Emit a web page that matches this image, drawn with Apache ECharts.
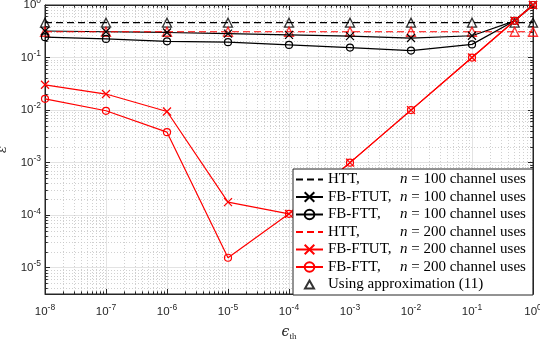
<!DOCTYPE html>
<html>
<head>
<meta charset="utf-8">
<script src="https://cdn.jsdelivr.net/npm/echarts@6/dist/echarts.min.js"></script>
<style>
  body { margin: 0; background: #fff; }
  #chart { width: 540px; height: 340px; }
</style>
</head>
<body>
<div id="chart"></div>
<script>
// epsilon_th values on the x axis
const xs = [1e-8, 1e-7, 1e-6, 1e-5, 1e-4, 1e-3, 1e-2, 1e-1, 0.5, 1];

// n = 100 channel uses
const htt100 = [0.46, 0.46, 0.46, 0.46, 0.46, 0.46, 0.46, 0.46, 0.46, 0.46];
const ftut100 = [0.32, 0.31, 0.30, 0.285, 0.27, 0.255, 0.235, 0.26, 0.5, 1];
const ftt100 = [0.244, 0.226, 0.204, 0.196, 0.174, 0.155, 0.136, 0.178, 0.5, 1];

// n = 200 channel uses
const htt200 = [0.31, 0.31, 0.31, 0.31, 0.31, 0.31, 0.31, 0.31, 0.31, 0.31];
const ftut200 = [0.0303, 0.0202, 0.0094, 1.77e-4, 1.06e-4, 1.0e-3, 1.0e-2, 0.1, 0.5, 1];
const ftt200 = [0.0164, 0.0097, 0.0038, 1.55e-5, 1.06e-4, 1.0e-3, 1.0e-2, 0.1, 0.5, 1];

// approximation (11)
const approx100 = [0.46, 0.46, 0.46, 0.46, 0.46, 0.46, 0.46, 0.46, 0.46, 0.46];
const approx200 = [0.31, 0.31, 0.31, 0.31, 0.31, 0.31, 0.31, 0.31, 0.31, 0.31];

const legendRows = {
  htt100: ['HTT,', '100'],
  ftut100: ['FB-FTUT,', '100'],
  ftt100: ['FB-FTT,', '100'],
  htt200: ['HTT,', '200'],
  ftut200: ['FB-FTUT,', '200'],
  ftt200: ['FB-FTT,', '200']
};

const BLACK = '#000000';
const RED = '#ff0000';
const XMARK = 'path://M0,0L10,10M0,10L10,0';
const xMin = 1e-8, xMax = 1;
const yMin = Math.pow(10, -5.5), yMax = 1;

function pairs(ys) {
  return xs.map((x, i) => [x, ys[i]]);
}

function powLabel(v) {
  const e = Math.log10(v);
  if (Math.abs(e - Math.round(e)) > 1e-6) return '';
  return '{b|10}{s|' + Math.round(e) + '}';
}

const labelRich = {
  b: { fontSize: 11.5, color: '#262626', fontFamily: 'Liberation Sans' },
  s: { fontSize: 8.5, color: '#262626', fontFamily: 'Liberation Sans', padding: [0, 0, 8, 0] }
};

// minor grid lines and minor ticks (2..9 in each decade)
const minorGrid = [];
const minorTicks = [];
const tx = Math.pow(10, 0.045), ty = Math.pow(10, 0.05);
for (let d = -8; d < 0; d++) {
  for (let k = 2; k <= 9; k++) {
    const v = k * Math.pow(10, d);
    minorGrid.push({ coords: [[v, yMin], [v, yMax]] });
    minorTicks.push({ coords: [[v, yMin], [v, yMin * ty]] });
    minorTicks.push({ coords: [[v, yMax], [v, yMax / ty]] });
  }
}
for (let d = -6; d < 0; d++) {
  for (let k = 2; k <= 9; k++) {
    const v = k * Math.pow(10, d);
    if (v <= yMin) continue;
    minorGrid.push({ coords: [[xMin, v], [xMax, v]] });
    minorTicks.push({ coords: [[xMin, v], [xMin * tx, v]] });
    minorTicks.push({ coords: [[xMax, v], [xMax / tx, v]] });
  }
}

function lineSeries(name, ys, color, dashed, symbol) {
  return {
    name: name,
    type: 'line',
    data: pairs(ys),
    symbol: symbol || 'none',
    symbolSize: symbol === 'circle' ? 7 : 8,
    showSymbol: !!symbol,
    lineStyle: { color: color, width: 1.2, type: dashed ? [7, 4] : 'solid' },
    itemStyle: { color: 'transparent', borderColor: color, borderWidth: 1.2 },
    emphasis: { disabled: true }
  };
}

const hideMark = { color: 'transparent', borderColor: 'transparent', borderWidth: 0 };

function axisBase(extra) {
  return Object.assign({
    axisLine: { show: true, lineStyle: { color: '#262626' } },
    axisTick: { inside: true, length: 5, lineStyle: { color: '#262626' } },
    splitLine: { show: false },
    axisLabel: { show: false }
  }, extra);
}

const chart = echarts.init(document.getElementById('chart'));
chart.setOption({
  animation: false,
  grid: {
    left: 45, right: 7, top: 5, bottom: 46,
    outerBoundsMode: 'none',
    show: true, borderColor: '#262626', borderWidth: 1, backgroundColor: '#fff'
  },
  xAxis: [axisBase({
    type: 'log', logBase: 10, min: xMin, max: xMax,
    name: '{e|ϵ}{t|th}', nameLocation: 'middle', nameGap: 30,
    nameTextStyle: {
      rich: {
        e: { fontSize: 14, fontFamily: 'DejaVu Serif', fontStyle: 'italic', color: '#262626' },
        t: { fontSize: 9, fontFamily: 'Liberation Serif', color: '#262626', padding: [8, 0, 0, 0] }
      }
    },
    axisLabel: { formatter: powLabel, rich: labelRich, margin: 9 },
    splitLine: { show: true, lineStyle: { color: '#e3e3e3', width: 1 } }
  }), axisBase({
    type: 'log', logBase: 10, min: xMin, max: xMax, position: 'top'
  })],
  yAxis: [axisBase({
    type: 'log', logBase: 10, min: yMin, max: yMax,
    name: 'ε', nameLocation: 'middle', nameGap: 36, nameRotate: 90,
    nameTextStyle: { fontSize: 13, fontFamily: 'DejaVu Serif', fontStyle: 'italic', color: '#262626' },
    axisLabel: { formatter: powLabel, rich: labelRich, margin: 4 },
    splitLine: { show: true, lineStyle: { color: '#e3e3e3', width: 1 } }
  }), axisBase({
    type: 'log', logBase: 10, min: yMin, max: yMax, position: 'right'
  })],
  legend: {
    orient: 'vertical',
    left: 293, top: 169,
    padding: [3, 7, 3, 2],
    itemWidth: 27, itemHeight: 12, itemGap: 2.5,
    backgroundColor: '#fff',
    borderColor: '#262626', borderWidth: 1,
    data: [
      { name: 'htt100', itemStyle: hideMark },
      'ftut100', 'ftt100',
      { name: 'htt200', itemStyle: hideMark },
      'ftut200', 'ftt200',
      { name: 'approx', icon: 'path://M0,0M27,12M13.5,2L18,10L9,10Z' }
    ],
    formatter: function (name) {
      if (name === 'approx') return '{a|Using approximation (11)}';
      const r = legendRows[name];
      return '{a|' + r[0] + '}{i|n}{b| = ' + r[1] + ' channel uses}';
    },
    textStyle: {
      rich: {
        a: { width: 72, fontSize: 15, lineHeight: 14, fontFamily: 'Liberation Serif', color: '#000' },
        i: { fontSize: 15, lineHeight: 14, fontFamily: 'Liberation Serif', fontStyle: 'italic', color: '#000' },
        b: { fontSize: 15, lineHeight: 14, fontFamily: 'Liberation Serif', color: '#000' }
      }
    }
  },
  series: [
    {
      name: 'minorGrid', type: 'lines', coordinateSystem: 'cartesian2d',
      silent: true, z: 1,
      lineStyle: { color: '#c4c4c4', type: [1, 2], width: 0.8, opacity: 1 },
      emphasis: { disabled: true },
      data: minorGrid
    },
    {
      name: 'minorTicks', type: 'lines', coordinateSystem: 'cartesian2d',
      silent: true, z: 1,
      lineStyle: { color: '#262626', width: 1, opacity: 1 },
      emphasis: { disabled: true },
      data: minorTicks
    },
    lineSeries('htt100', htt100, BLACK, true),
    lineSeries('ftut100', ftut100, BLACK, false, XMARK),
    lineSeries('ftt100', ftt100, BLACK, false, 'circle'),
    lineSeries('htt200', htt200, RED, true),
    lineSeries('ftut200', ftut200, RED, false, XMARK),
    lineSeries('ftt200', ftt200, RED, false, 'circle'),
    {
      name: 'approx', type: 'scatter', data: pairs(approx100),
      symbol: 'triangle', symbolSize: 9,
      itemStyle: { color: 'transparent', borderColor: BLACK, borderWidth: 1.3 },
      emphasis: { disabled: true }
    },
    {
      name: 'approxRed', type: 'scatter', data: pairs(approx200),
      symbol: 'triangle', symbolSize: 9,
      itemStyle: { color: 'transparent', borderColor: RED, borderWidth: 1.3 },
      emphasis: { disabled: true }
    }
  ]
});
</script>
</body>
</html>
